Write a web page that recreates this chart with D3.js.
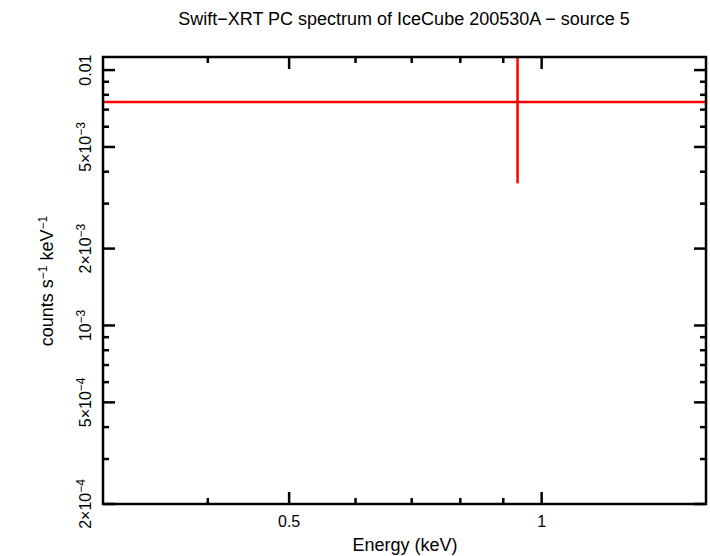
<!DOCTYPE html>
<html><head><meta charset="utf-8">
<script src="https://cdn.jsdelivr.net/npm/d3@7"></script>
<style>body{margin:0;background:#fff}text{font-family:"Liberation Sans",Arial,sans-serif;fill:#000}</style>
</head><body><svg id="c" width="710" height="556"></svg>
<script>
const energy=[0.936];
const energyLo=[0.3];
const energyHi=[1.6];
const rate=[0.00749];
const rateLo=[0.00360];
const rateHi=[0.02];
const xMajor=[0.5,1];
const xMinor=[0.4,0.6,0.7,0.8,0.9];
const yMajor=[2e-4,5e-4,1e-3,2e-3,5e-3,0.01];
const yMinor=[3e-4,4e-4,6e-4,7e-4,8e-4,9e-4,3e-3,4e-3,6e-3,7e-3,8e-3,9e-3];
const yLabels={"0.0002":["2×10","−4"],"0.0005":["5×10","−4"],"0.001":["10","−3"],"0.002":["2×10","−3"],"0.005":["5×10","−3"],"0.01":["0.01",""]};

const L=103,R=706,T=57,B=504;
const svg=d3.select("#c");
const x=d3.scaleLog().domain([0.3,1.57]).range([L,R]);
const y=d3.scaleLog().domain([2e-4,0.01125]).range([B,T]);

svg.append("clipPath").attr("id","cp").append("rect").attr("x",L).attr("y",T).attr("width",R-L).attr("height",B-T);
const g=svg.append("g").attr("clip-path","url(#cp)");
energy.forEach((e,i)=>{
  g.append("line").attr("x1",x(energyLo[i])).attr("x2",x(energyHi[i])).attr("y1",y(rate[i])).attr("y2",y(rate[i])).attr("stroke","#f00").attr("stroke-width",2.5);
  g.append("line").attr("x1",x(e)).attr("x2",x(e)).attr("y1",y(rateLo[i])).attr("y2",y(rateHi[i])).attr("stroke","#f00").attr("stroke-width",2.5);
});

const ax=svg.append("g").attr("stroke","#000").attr("stroke-width",2.5);
xMajor.forEach(v=>{ax.append("line").attr("x1",x(v)).attr("x2",x(v)).attr("y1",B).attr("y2",B-12);ax.append("line").attr("x1",x(v)).attr("x2",x(v)).attr("y1",T).attr("y2",T+12);});
xMinor.forEach(v=>{ax.append("line").attr("x1",x(v)).attr("x2",x(v)).attr("y1",B).attr("y2",B-6);ax.append("line").attr("x1",x(v)).attr("x2",x(v)).attr("y1",T).attr("y2",T+6);});
yMajor.forEach(v=>{ax.append("line").attr("y1",y(v)).attr("y2",y(v)).attr("x1",L).attr("x2",L+12);ax.append("line").attr("y1",y(v)).attr("y2",y(v)).attr("x1",R).attr("x2",R-12);});
yMinor.forEach(v=>{ax.append("line").attr("y1",y(v)).attr("y2",y(v)).attr("x1",L).attr("x2",L+6);ax.append("line").attr("y1",y(v)).attr("y2",y(v)).attr("x1",R).attr("x2",R-6);});
ax.append("rect").attr("x",L).attr("y",T).attr("width",R-L).attr("height",B-T).attr("fill","none");

xMajor.forEach(v=>svg.append("text").attr("x",x(v)).attr("y",527).attr("text-anchor","middle").attr("font-size",16).text(v));
yMajor.forEach(v=>{
  const lb=yLabels[String(v)];
  const t=svg.append("text").attr("transform",`translate(91,${y(v)}) rotate(-90)`).attr("text-anchor","middle").attr("font-size",16);
  t.append("tspan").text(lb[0]);
  if(lb[1]) t.append("tspan").attr("dy",-6).attr("font-size",12).text(lb[1]);
});
svg.append("text").attr("x",405).attr("y",551).attr("text-anchor","middle").attr("font-size",18).text("Energy (keV)");
const yl=svg.append("text").attr("transform","translate(53,281) rotate(-90)").attr("text-anchor","middle").attr("font-size",18);
yl.append("tspan").text("counts s");yl.append("tspan").attr("dy",-6).attr("font-size",12).text("−1");
yl.append("tspan").attr("dy",6).text(" keV");yl.append("tspan").attr("dy",-6).attr("font-size",12).text("−1");
svg.append("text").attr("x",404).attr("y",25).attr("text-anchor","middle").attr("font-size",18).text("Swift−XRT PC spectrum of IceCube 200530A − source 5");
</script></body></html>
